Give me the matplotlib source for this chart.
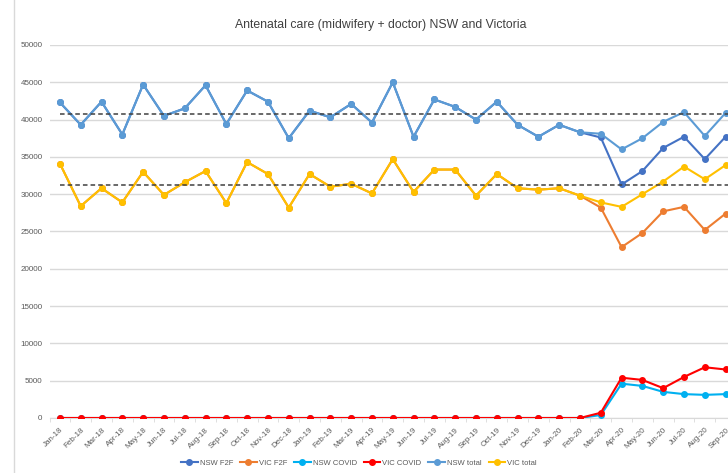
import matplotlib
matplotlib.use("Agg")
import matplotlib.pyplot as plt
from matplotlib.lines import Line2D
import numpy as np

plt.rcParams['font.family'] = ['Liberation Sans', 'DejaVu Sans']

# months Jan-18 .. Sep-20
months = ['Jan-18', 'Feb-18', 'Mar-18', 'Apr-18', 'May-18', 'Jun-18', 'Jul-18', 'Aug-18',
          'Sep-18', 'Oct-18', 'Nov-18', 'Dec-18', 'Jan-19', 'Feb-19', 'Mar-19', 'Apr-19',
          'May-19', 'Jun-19', 'Jul-19', 'Aug-19', 'Sep-19', 'Oct-19', 'Nov-19', 'Dec-19',
          'Jan-20', 'Feb-20', 'Mar-20', 'Apr-20', 'May-20', 'Jun-20', 'Jul-20', 'Aug-20',
          'Sep-20']

nsw_total = [42300, 39300, 42400, 38000, 44700, 40500, 41500, 44600, 39400, 43900, 42400,
             37500, 41200, 40300, 42100, 39600, 45000, 37700, 42700, 41700, 40000, 42400,
             39300, 37700, 39300, 38300, 38100, 36000, 37500, 39700, 41000, 37800, 40900]
nsw_f2f = [42300, 39300, 42400, 38000, 44700, 40500, 41500, 44600, 39400, 43900, 42400,
           37500, 41200, 40300, 42100, 39600, 45000, 37700, 42700, 41700, 40000, 42400,
           39300, 37700, 39300, 38300, 37600, 31300, 33100, 36200, 37700, 34700, 37700]
nsw_covid = [0] * 26 + [400, 4600, 4300, 3500, 3200, 3100, 3200]

vic_total = [34100, 28400, 30800, 28900, 33000, 29900, 31600, 33100, 28800, 34300, 32700,
             28200, 32700, 31000, 31400, 30100, 34700, 30300, 33300, 33300, 29800, 32700,
             30800, 30600, 30800, 29800, 28900, 28300, 30000, 31700, 33700, 32000, 33900]
vic_f2f = [34100, 28400, 30800, 28900, 33000, 29900, 31600, 33100, 28800, 34300, 32700,
           28200, 32700, 31000, 31400, 30100, 34700, 30300, 33300, 33300, 29800, 32700,
           30800, 30600, 30800, 29800, 28200, 22900, 24800, 27700, 28300, 25200, 27400]
vic_covid = [0] * 26 + [700, 5400, 5100, 4000, 5500, 6800, 6500]

nsw_avg = 40750
vic_avg = 31200

series = [
    ('NSW F2F', nsw_f2f, '#4472C4'),
    ('VIC F2F', vic_f2f, '#ED7D31'),
    ('NSW COVID', nsw_covid, '#00B0F0'),
    ('VIC COVID', vic_covid, '#FF0000'),
    ('NSW total', nsw_total, '#5B9BD5'),
    ('VIC total', vic_total, '#FFC000'),
]

fig = plt.figure(figsize=(7.28, 4.73), dpi=100)
ax = fig.add_axes([0.068, 0.1163, 0.943, 0.7886])

x = np.arange(len(months))
for name, vals, col in series:
    ax.plot(x, vals, color=col, lw=1.5, marker='o', ms=4, label=name, zorder=3)

# reference lines (average level)
ax.plot([0, len(months) + 2], [nsw_avg, nsw_avg], ls=(0, (3, 2)), color='#404040', lw=1.1, zorder=4)
ax.plot([0, len(months) + 2], [vic_avg, vic_avg], ls=(0, (3, 2)), color='#404040', lw=1.1, zorder=4)

ax.set_xlim(-0.5, len(months) - 0.5)
ax.set_ylim(0, 50000)
ax.set_yticks(np.arange(0, 50001, 5000))
ax.set_yticklabels([str(v) for v in range(0, 50001, 5000)], fontsize=5.8, color='#595959')
ax.set_xticks(x)
ax.set_xticklabels(months, rotation=45, ha='right', rotation_mode='anchor',
                   fontsize=5.8, color='#595959')
ax.set_xticks(np.arange(-0.5, len(months), 1), minor=True)
ax.tick_params(axis='x', which='major', length=0, pad=6)
ax.tick_params(axis='x', which='minor', length=3, color='#d9d9d9')
ax.tick_params(axis='y', length=0, pad=5)
ax.grid(axis='y', color='#d9d9d9', lw=1)
ax.set_axisbelow(True)
for s in ['top', 'right', 'left']:
    ax.spines[s].set_visible(False)
ax.spines['bottom'].set_color('#d9d9d9')

fig.text(0.523, 0.947, 'Antenatal care (midwifery + doctor) NSW and Victoria',
         ha='center', va='center', fontsize=8.8, color='#404040')

fig.add_artist(Line2D([14 / 728, 14 / 728], [0, 1], color='#d9d9d9', lw=1))

fig.legend(loc='center', bbox_to_anchor=(0.493, 0.021), ncol=6, frameon=False,
           fontsize=5.5, handlelength=2.2, columnspacing=0.9, handletextpad=0.25,
           labelcolor='#595959')

fig.savefig('out.png', dpi=100)
